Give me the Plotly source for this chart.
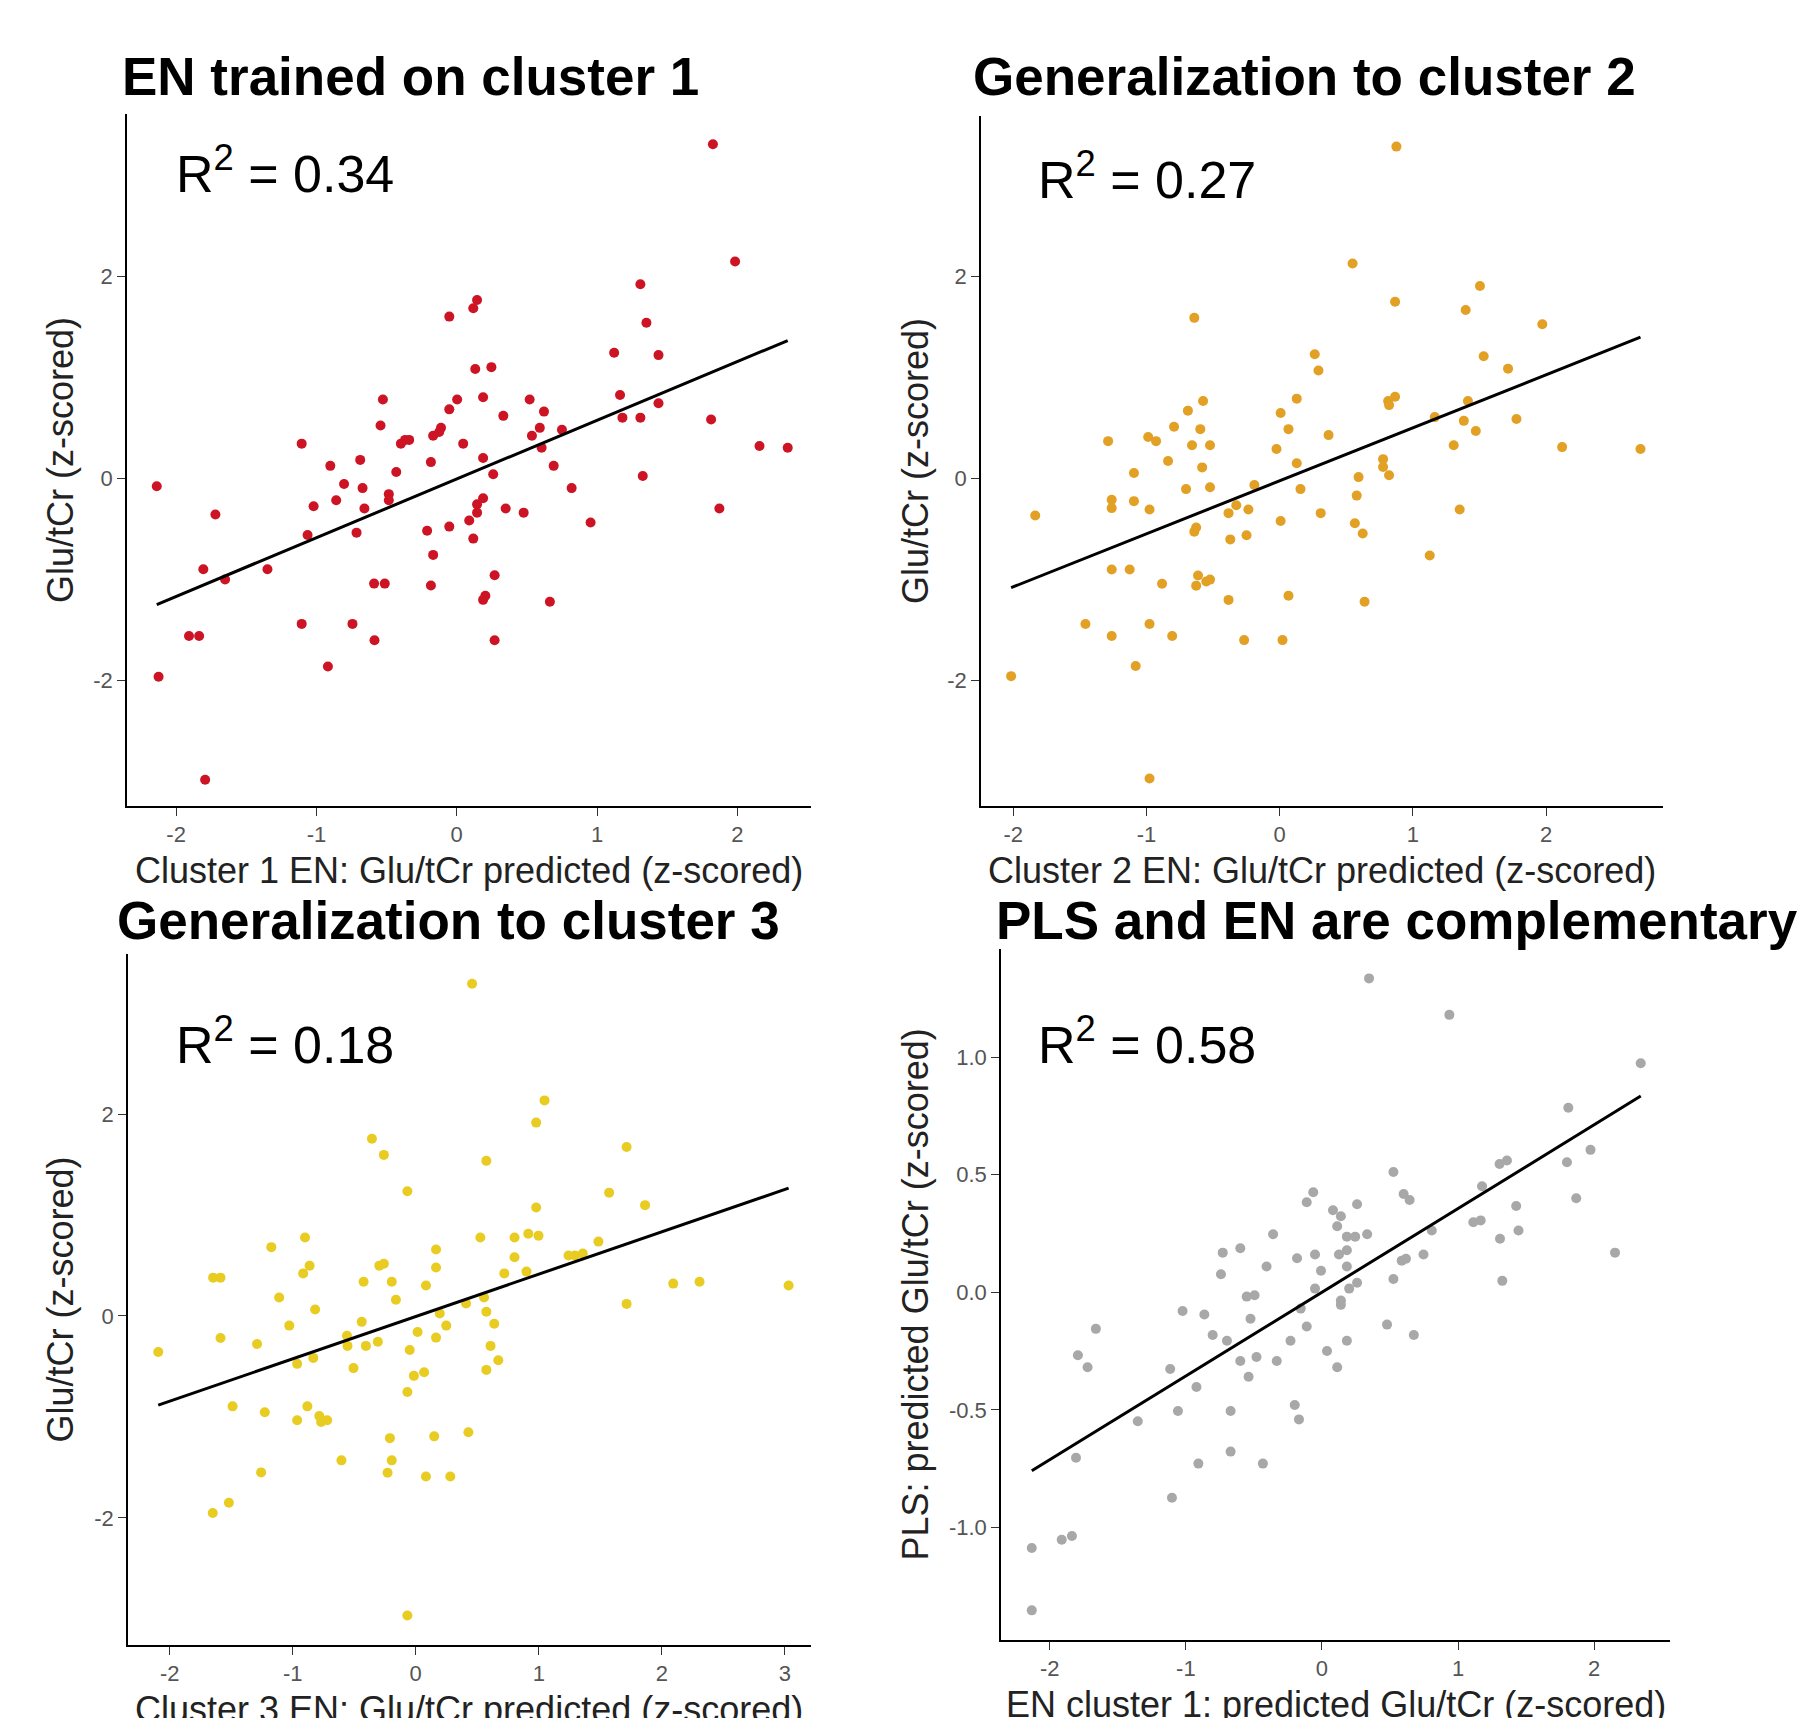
import numpy as np
import plotly.graph_objects as go

W, H = 1800, 1718

# ---------------- data ----------------
c1_x = [1.826, 1.984, 1.309, 1.352, 1.122, 1.438, 1.164, 1.438, 1.181, 1.309, 1.813, 2.158, 2.359, 1.326, 1.872,
        -0.053, 0.118, 0.145, 0.132, 0.247, 0.003, 0.188, -0.053, -0.526, -0.543, 0.520, 0.622, 0.332, 0.592, 0.750,
        0.536, -0.112, -0.125, -0.168, -0.339, -0.368, -0.398, 0.046, -1.105, 0.605, 0.188, -0.184, -0.688, -0.901,
        0.691, -0.431, 0.260, -0.803, -0.671, 0.819, -2.138, -0.484, -0.484, -0.859, 0.188, 0.145, -1.020, -0.658,
        0.349, 0.477, 0.145, -1.720, 0.089, 0.954, -0.053, -0.211, -0.714, -1.063, 0.118, -0.168, -1.806, -1.349,
        -1.651, 0.270, -0.589, -0.513, -0.184, 0.204, 0.188, 0.664, -1.105, -0.743, -1.908, -1.836, -0.586, 0.270,
        -0.918, -2.125, -1.793]
c1_y = [3.307, 2.147, 1.922, 1.541, 1.243, 1.220, 0.826, 0.743, 0.601, 0.601, 0.583, 0.321, 0.303, 0.023, -0.298,
        1.601, 1.683, 1.766, 1.083, 1.101, 0.780, 0.803, 0.683, 0.780, 0.523, 0.780, 0.661, 0.619, 0.500, 0.482,
        0.422, 0.500, 0.459, 0.422, 0.381, 0.381, 0.344, 0.344, 0.344, 0.303, 0.202, 0.161, 0.183, 0.124,
        0.124, 0.064, 0.041, -0.055, -0.096, -0.096, -0.078, -0.156, -0.216, -0.216, -0.197, -0.257, -0.275, -0.298,
        -0.298, -0.339, -0.339, -0.358, -0.417, -0.436, -0.477, -0.518, -0.537, -0.560, -0.596, -0.757, -0.899, -0.899,
        -1.000, -0.959, -1.041, -1.041, -1.060, -1.161, -1.202, -1.220, -1.440, -1.440, -1.560, -1.560, -1.601, -1.601,
        -1.862, -1.963, -2.982]

c2_x = [0.876, 0.547, 0.866, 1.503, 1.396, 1.971, -0.641, 0.263, 0.291, 1.531, 1.714, -0.575, 0.128, 0.007, 0.814,
        0.866, 0.821, 1.413, 1.164, 1.382, 1.777, 1.472, 1.306, 2.120, 2.708, -0.689, -0.793, -0.596, -0.987, -0.928,
        -1.288, -0.658, -0.523, 0.066, 0.367, -0.024, 0.128, -0.838, -0.582, 0.776, 0.776, 0.821, 0.592, -1.094,
        -0.703, -0.523, -0.190, 0.156, 0.578, -1.261, -1.261, -1.094, -0.977, -1.835, -0.326, -0.235, -0.384, 0.308,
        1.351, 0.007, 0.564, -0.627, -0.641, 0.623, -0.249, -0.371, 1.126, -1.261, -1.126, -0.883, -0.613, -0.627,
        -0.551, -0.523, 0.066, -0.384, 0.637, -1.458, -0.977, -1.261, -0.807, -0.267, 0.021, -1.081, -2.016, -0.977]
c2_y = [3.287, 2.130, 1.751, 1.906, 1.669, 1.527, 1.591, 1.230, 1.070, 1.211, 1.088, 0.768, 0.791, 0.649, 0.768,
        0.809, 0.727, 0.768, 0.608, 0.571, 0.590, 0.471, 0.329, 0.311, 0.293, 0.672, 0.512, 0.489, 0.411, 0.370,
        0.370, 0.329, 0.329, 0.489, 0.430, 0.293, 0.151, 0.174, 0.110, 0.192, 0.114, 0.032, 0.014, 0.055,
        -0.105, -0.087, -0.064, -0.105, -0.169, -0.210, -0.293, -0.224, -0.306, -0.366, -0.265, -0.306, -0.343, -0.343,
        -0.306, -0.421, -0.443, -0.485, -0.526, -0.544, -0.562, -0.603, -0.763, -0.901, -0.901, -1.042, -0.960, -1.061,
        -1.019, -1.001, -1.161, -1.202, -1.221, -1.440, -1.440, -1.559, -1.559, -1.600, -1.600, -1.856, -1.957, -2.971]

c3_x = [0.458, 1.047, 0.979, -0.356, -0.259, 0.574, 1.714, -0.068, 1.572, 1.864, 0.979, 0.525, 0.803, 0.915, 0.998,
        1.485, -0.900, -1.174, 0.165, 0.165, 0.803, 1.242, 1.294, 1.358, -0.296, -0.259, -0.863, -0.915, 0.720, 0.900,
        -1.647, -1.587, -0.424, -0.195, 0.083, 2.093, 2.307, 3.031, -1.110, -0.161, 0.409, 0.555, 1.714, -0.818,
        0.574, 0.195, -1.028, -0.439, 0.248, 0.638, -1.587, -0.559, 0.015, 0.165, -1.290, -0.405, -0.308, -0.555,
        -2.093, -0.049, 0.608, -0.833, 0.671, -0.964, -0.506, 0.574, 0.068, -0.015, -0.068, -1.489, -0.881, -1.227,
        -0.964, -0.784, -0.769, -0.720, 0.428, 0.150, -0.210, -0.604, -0.195, -0.229, -1.257, 0.083, 0.281, -1.519,
        -1.650, -0.068]
c3_y = [3.291, 2.135, 1.915, 1.755, 1.595, 1.536, 1.673, 1.234, 1.221, 1.097, 1.074, 0.777, 0.777, 0.814, 0.795,
        0.736, 0.777, 0.681, 0.658, 0.480, 0.581, 0.599, 0.599, 0.617, 0.498, 0.517, 0.498, 0.421, 0.421, 0.439,
        0.379, 0.379, 0.338, 0.338, 0.302, 0.320, 0.338, 0.302, 0.183, 0.160, 0.123, 0.183, 0.119, 0.064,
        0.041, 0.023, -0.096, -0.059, -0.096, -0.078, -0.219, -0.197, -0.160, -0.215, -0.279, -0.297, -0.256, -0.297,
        -0.357, -0.338, -0.297, -0.416, -0.439, -0.475, -0.517, -0.535, -0.558, -0.594, -0.754, -0.896, -0.896, -0.955,
        -1.033, -0.992, -1.051, -1.033, -1.152, -1.193, -1.211, -1.431, -1.431, -1.554, -1.550, -1.591, -1.591, -1.851,
        -1.952, -2.967]

c4_x = [0.346, 0.936, 2.342, 1.810, 1.973, 1.800, 1.868, 2.153, 1.305, 1.359, 1.176, 1.427, 1.444, 1.112, 1.166,
        1.308, 1.325, 0.525, 0.600, 0.644, 0.807, 0.746, 0.586, 0.617, 0.525, 0.478, 0.675, -0.064, -0.112, 0.081,
        0.139, 0.258, 0.112, 0.183, 0.244, 0.332, -0.359, -0.600, -0.729, -0.183, -0.051, 0.125, 0.183, -0.407,
        -0.007, 0.183, -0.742, 0.258, 0.200, -0.051, -0.553, -0.495, 0.139, 0.139, -0.156, -1.024, -0.864, -0.525,
        -0.112, -1.661, -0.803, -0.698, -0.231, 0.183, 0.037, -1.793, -1.722, -0.600, -0.481, -0.332, 0.112, -1.115,
        -0.539, -0.922, -1.058, -0.671, -0.200, -0.169, -1.353, -1.807, -0.671, -0.908, -0.434, -1.102, -1.912, -1.837,
        -2.132, -2.132]
c4_y = [1.335, 1.180, 0.974, 0.785, 0.606, 0.553, 0.400, 0.169, 0.546, 0.561, 0.451, 0.367, 0.263, 0.298, 0.306,
        0.228, 0.049, 0.512, 0.418, 0.393, 0.263, 0.161, 0.135, 0.143, 0.057, -0.137, -0.181, 0.426, 0.383, 0.349,
        0.324, 0.375, 0.281, 0.237, 0.237, 0.247, 0.247, 0.188, 0.169, 0.145, 0.161, 0.161, 0.179, 0.110,
        0.092, 0.110, 0.077, 0.041, 0.016, 0.016, -0.018, -0.012, -0.035, -0.053, -0.069, -0.079, -0.094, -0.112,
        -0.145, -0.155, -0.181, -0.206, -0.206, -0.206, -0.249, -0.267, -0.318, -0.292, -0.275, -0.292, -0.318, -0.326,
        -0.359, -0.402, -0.504, -0.504, -0.479, -0.540, -0.548, -0.703, -0.677, -0.728, -0.728, -0.873, -1.052, -1.036,
        -1.087, -1.352]

titles = ["EN trained on cluster 1", "Generalization to cluster 2",
          "Generalization to cluster 3", "PLS and EN are complementary"]
r2_labels = ["R<sup>2</sup> = 0.34", "R<sup>2</sup> = 0.27", "R<sup>2</sup> = 0.18", "R<sup>2</sup> = 0.58"]
x_titles = ["Cluster 1 EN: Glu/tCr predicted (z-scored)", "Cluster 2 EN: Glu/tCr predicted (z-scored)",
            "Cluster 3 EN: Glu/tCr predicted (z-scored)", "EN cluster 1: predicted Glu/tCr (z-scored)"]
y_titles = ["Glu/tCr (z-scored)", "Glu/tCr (z-scored)", "Glu/tCr (z-scored)", "PLS: predicted Glu/tCr (z-scored)"]
y_tickvals = [[-2, 0, 2], [-2, 0, 2], [-2, 0, 2], [-1.0, -0.5, 0.0, 0.5, 1.0]]
y_ticktext = [["-2", "0", "2"], ["-2", "0", "2"], ["-2", "0", "2"], ["-1.0", "-0.5", "0.0", "0.5", "1.0"]]
x_tickvals = [[-2, -1, 0, 1, 2], [-2, -1, 0, 1, 2], [-2, -1, 0, 1, 2, 3], [-2, -1, 0, 1, 2]]
x_ticktext = [["-2", "-1", "0", "1", "2"], ["-2", "-1", "0", "1", "2"],
              ["-2", "-1", "0", "1", "2", "3"], ["-2", "-1", "0", "1", "2"]]

# ---------------- styling / layout ----------------
colors = ["#cc1424", "#e2a024", "#e8cc22", "#a8a8a8"]
# pixel boxes: left, right, top, bottom
boxes = [(127, 811, 114, 806), (981, 1663, 116, 806), (128, 811, 954, 1645), (1001, 1670, 949, 1640)]
xranges = [[-2.35, 2.525], [-2.242, 2.877], [-2.339, 3.213], [-2.358, 2.557]]
yranges = [[-3.242, 3.606], [-3.243, 3.59], [-3.26, 3.585], [-1.478, 1.46]]
title_pos = [(120, 76), (971, 76), (115, 920), (994, 920)]
r2_pos = [(174, 170), (1036, 176), (174, 1041), (1036, 1041)]
ytitle_x = [60, 915, 60, 915]

def px(x):
    return x / W

def py(y):
    return 1 - y / H

FONT = "Liberation Sans, Arial, sans-serif"
fig = go.Figure()
datasets = [(c1_x, c1_y), (c2_x, c2_y), (c3_x, c3_y), (c4_x, c4_y)]
annotations = []
for i, (xs, ys) in enumerate(datasets):
    n = "" if i == 0 else str(i + 1)
    xa, ya = "x" + n, "y" + n
    fig.add_trace(go.Scatter(x=xs, y=ys, mode="markers", xaxis=xa, yaxis=ya,
                             marker=dict(size=10, color=colors[i]), showlegend=False))
    xarr, yarr = np.array(xs), np.array(ys)
    slope, icpt = np.polyfit(xarr, yarr, 1)
    lx = np.array([xarr.min(), xarr.max()])
    fig.add_trace(go.Scatter(x=lx, y=slope * lx + icpt, mode="lines", xaxis=xa, yaxis=ya,
                             line=dict(color="black", width=3), showlegend=False))
    l, r, t, b = boxes[i]
    axis_common = dict(showgrid=False, zeroline=False, showline=True, linecolor="black", linewidth=1.6,
                       ticks="outside", ticklen=8, tickwidth=1.4, tickcolor="#333333",
                       tickfont=dict(family=FONT, size=22, color="#555555"),
                       mirror=False, fixedrange=True)
    fig.layout["xaxis" + n] = dict(domain=[px(l), px(r)], range=xranges[i], anchor=ya,
                                   tickvals=x_tickvals[i], ticktext=x_ticktext[i], **axis_common)
    fig.layout["yaxis" + n] = dict(domain=[py(b), py(t)], range=yranges[i], anchor=xa,
                                   tickvals=y_tickvals[i], ticktext=y_ticktext[i], **axis_common)
    tx, ty = title_pos[i]
    annotations.append(dict(text="<b>" + titles[i] + "</b>", xref="paper", yref="paper",
                            x=px(tx), y=py(ty), xanchor="left", yanchor="middle", showarrow=False,
                            font=dict(family=FONT, size=53, color="black")))
    rx, ry = r2_pos[i]
    annotations.append(dict(text=r2_labels[i], xref="paper", yref="paper", x=px(rx), y=py(ry),
                            xanchor="left", yanchor="middle", showarrow=False,
                            font=dict(family=FONT, size=52, color="black")))
    annotations.append(dict(text=x_titles[i], xref="paper", yref="paper", x=px((l + r) / 2), y=py(b + 64),
                            xanchor="center", yanchor="middle", showarrow=False,
                            font=dict(family=FONT, size=36, color="#222222")))
    annotations.append(dict(text=y_titles[i], xref="paper", yref="paper", x=px(ytitle_x[i]), y=py((t + b) / 2),
                            xanchor="center", yanchor="middle", showarrow=False, textangle=-90,
                            font=dict(family=FONT, size=36, color="#222222")))

fig.update_layout(width=W, height=H, margin=dict(l=0, r=0, t=0, b=0),
                  paper_bgcolor="white", plot_bgcolor="white", annotations=annotations)

fig.write_html("out.html")
